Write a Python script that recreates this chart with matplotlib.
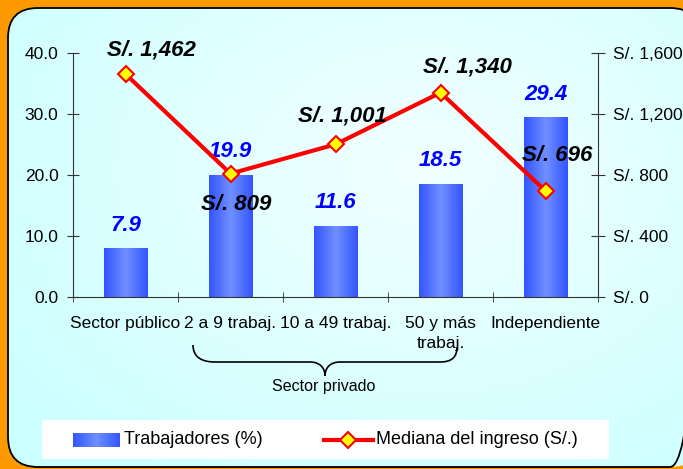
import numpy as np
import matplotlib
matplotlib.use("Agg")
import matplotlib.pyplot as plt
from matplotlib.patches import FancyBboxPatch, Rectangle, PathPatch
from matplotlib.path import Path
from matplotlib.colors import LinearSegmentedColormap

plt.rcParams['font.family'] = ['Liberation Sans', 'DejaVu Sans']

# ---- data ----
categories = ["Sector público", "2 a 9 trabaj.", "10 a 49 trabaj.", "50 y más\ntrabaj.", "Independiente"]
trabajadores = [7.9, 19.9, 11.6, 18.5, 29.4]
mediana = [1462, 809, 1001, 1340, 696]
mediana_labels = ["S/. 1,462", "S/. 809", "S/. 1,001", "S/. 1,340", "S/. 696"]
left_ticks = [0, 10, 20, 30, 40]
right_ticks = [0, 400, 800, 1200, 1600]
right_ticklabels = ["S/. 0", "S/. 400", "S/. 800", "S/. 1,200", "S/. 1,600"]
group_label = "Sector privado"
legend_labels = ["Trabajadores (%)", "Mediana del ingreso (S/.)"]

# label offsets (points) for line labels
line_label_offsets = [(18.7, 17.3), (4.3, -22.3), (5.0, 20.2), (19.4, 18.7), (8.6, 25.2)]

W, H = 683, 469
fig = plt.figure(figsize=(W / 100, H / 100), dpi=100)
fig.patch.set_facecolor('#FF9900')

# background panel (pixel coordinates)
bg = fig.add_axes([0, 0, 1, 1], zorder=0)
bg.set_xlim(0, W)
bg.set_ylim(H, 0)
bg.axis('off')
panel = FancyBboxPatch((8, 8), 692, 459, boxstyle="round,pad=0,rounding_size=30",
                       facecolor='none', edgecolor='black', linewidth=1.3, zorder=2)
bg.add_patch(panel)
yy, xx = np.mgrid[0:H:2, 0:W:2]
d = np.sqrt(((xx - 420) / 520.0) ** 2 + ((yy - 170) / 380.0) ** 2)
d = np.clip(d, 0, 1)
c0 = np.array([0.95, 1.0, 1.0])
c1 = np.array([0.80, 1.0, 1.0])
img = c0[None, None, :] * (1 - d[..., None]) + c1[None, None, :] * d[..., None]
im = bg.imshow(img, extent=[0, W, H, 0], zorder=1, aspect='auto')
im.set_clip_path(panel)

bar_cmap = LinearSegmentedColormap.from_list('bar', ['#3355FF', '#7090FF', '#3355FF'])
grad = np.linspace(0, 1, 64)[None, :]

# main axes
ax = fig.add_axes([73 / W, 1 - 297 / H, (598 - 73) / W, (297 - 53) / H], zorder=3)
ax.patch.set_visible(False)
x = np.arange(len(categories))
bars = ax.bar(x, trabajadores, width=0.41, color='none', zorder=2)
for b in bars:
    bx, bw, bh = b.get_x(), b.get_width(), b.get_height()
    ax.imshow(grad, cmap=bar_cmap, extent=[bx, bx + bw, 0, bh], aspect='auto', zorder=2)
ax.set_xlim(-0.5, len(categories) - 0.5)
ax.set_ylim(0, 40)
ax.set_yticks(left_ticks)
ax.set_yticklabels([f"{v:.1f}" for v in left_ticks])
ax.set_xticks(x)
ax.set_xticklabels(categories, linespacing=1.45)
ax.set_xticks(np.arange(-0.5, len(categories), 1.0), minor=True)
ax.tick_params(axis='x', which='major', length=0, pad=13.5, labelsize=12.5)
ax.tick_params(axis='x', which='minor', length=7, direction='inout', color='#333333')
ax.tick_params(axis='y', length=9, direction='inout', pad=6, labelsize=12.5, color='#333333')
for s in ['top', 'right']:
    ax.spines[s].set_visible(False)
for s in ['left', 'bottom']:
    ax.spines[s].set_color('#333333')

for xi, v in zip(x, trabajadores):
    ax.annotate(f"{v:.1f}", (xi, v), xytext=(0, 17), textcoords='offset points',
                ha='center', va='center', color='#0000FF', fontsize=16,
                fontweight='bold', fontstyle='italic', zorder=5)

ax2 = ax.twinx()
ax2.set_zorder(4)
ax2.patch.set_visible(False)
ax2.set_ylim(0, 1600)
ax2.set_yticks(right_ticks)
ax2.set_yticklabels(right_ticklabels)
ax2.tick_params(axis='y', length=10, direction='inout', pad=6, labelsize=12.5, color='#333333')
for s in ['top', 'left', 'bottom']:
    ax2.spines[s].set_visible(False)
ax2.spines['right'].set_color('#333333')
ax2.plot(x, mediana, color='#FF0000', linewidth=3, marker='D', markersize=8,
         markerfacecolor='#FFFF00', markeredgecolor='#FF0000', markeredgewidth=1.5, zorder=5)
for xi, v, lab, off in zip(x, mediana, mediana_labels, line_label_offsets):
    ax2.annotate(lab, (xi, v), xytext=off, textcoords='offset points',
                 ha='center', va='center', color='black', fontsize=16,
                 fontweight='bold', fontstyle='italic', zorder=6)

# brace under the private sector categories (pixel coordinates on bg)
verts = [(193, 345), (193, 358), (203, 362), (215, 362),
         (310, 362), (320, 362), (325, 368), (325, 376),
         (325, 368), (330, 362), (340, 362),
         (440, 362), (452, 362), (457, 357), (457, 347)]
codes = [Path.MOVETO, Path.CURVE4, Path.CURVE4, Path.CURVE4,
         Path.LINETO, Path.CURVE4, Path.CURVE4, Path.CURVE4,
         Path.CURVE4, Path.CURVE4, Path.CURVE4,
         Path.LINETO, Path.CURVE4, Path.CURVE4, Path.CURVE4]
bg.add_patch(PathPatch(Path(verts, codes), facecolor='none', edgecolor='black', linewidth=1.2, zorder=3))
bg.text(324, 387, group_label, ha='center', va='center', fontsize=11.5, zorder=3)

# legend
bg.add_patch(Rectangle((42, 420), 567, 39, facecolor='white', edgecolor='none', zorder=3))
bg.imshow(grad, cmap=bar_cmap, extent=[73, 120, 447, 433], aspect='auto', zorder=4)
bg.text(124, 440, legend_labels[0], ha='left', va='center', fontsize=13, zorder=4)
bg.plot([324, 373], [440, 440], color='#FF0000', linewidth=3, zorder=4)
bg.plot([348], [440], marker='D', markersize=8, markerfacecolor='#FFFF00',
        markeredgecolor='#FF0000', markeredgewidth=1.5, zorder=5)
bg.text(376, 440, legend_labels[1], ha='left', va='center', fontsize=13, zorder=4)
bg.set_xlim(0, W)
bg.set_ylim(H, 0)

fig.savefig('out.png', dpi=100, facecolor=fig.get_facecolor())
